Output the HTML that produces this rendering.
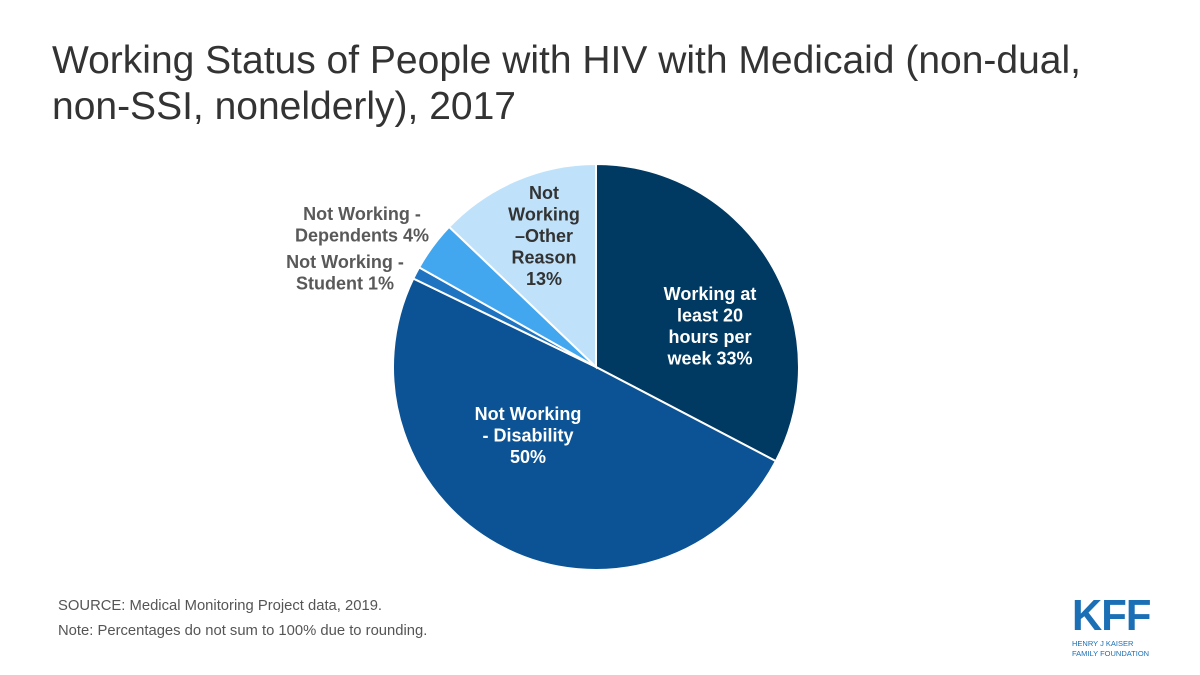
<!DOCTYPE html>
<html><head><meta charset="utf-8"><style>
body{margin:0;width:1200px;height:675px;background:#fff;font-family:"Liberation Sans",Arial,sans-serif;overflow:hidden;position:relative}
#title{position:absolute;left:52px;top:38px;font-size:39px;line-height:46px;color:#333;margin:0;font-weight:normal}
.note{position:absolute;left:58px;font-size:14.8px;color:#555}
svg{position:absolute;left:0;top:0}
</style></head><body>
<h1 id="title">Working Status of People with HIV with Medicaid (non-dual,<br>non-SSI, nonelderly), 2017</h1>
<svg id="chart" width="1200" height="675"></svg>
<div class="note" style="top:598px">SOURCE: Medical Monitoring Project data, 2019.</div>
<div class="note" style="top:623px">Note: Percentages do not sum to 100% due to rounding.</div>
<div style="position:absolute;left:1072px;top:596px;width:90px">
<div style="font-size:44px;font-weight:bold;color:#1a6fb5;line-height:40px;letter-spacing:-1px;transform:scaleX(0.95);transform-origin:left">KFF</div>
<div style="font-size:7.5px;color:#1a6fb5;line-height:10px;margin-top:3px">HENRY J KAISER<br>FAMILY FOUNDATION</div></div>
<script>
const categories=["Working at least 20 hours per week","Not Working - Disability","Not Working - Student","Not Working - Dependents","Not Working –Other Reason"];
const values=[33,50,1,4,13];
const colors=["#003a63","#0b5394","#1e74c1","#43a7f0","#bfe2fa"];
const labelLines=[["Working at","least 20","hours per","week 33%"],["Not Working","- Disability","50%"],["Not Working -","Student 1%"],["Not Working -","Dependents 4%"],["Not","Working","–Other","Reason","13%"]];
const cx=596,cy=367,r=203;
const svg=document.getElementById('chart');
const NS='http://www.w3.org/2000/svg';
const total=values.reduce((a,b)=>a+b,0);
function pt(a,rr){return [cx+rr*Math.sin(a),cy-rr*Math.cos(a)];}
let a0=0;
const labelPos=[[710,300,'#fff','middle'],[528,420,'#fff','middle'],[345,268,'#595959','middle'],[362,220,'#595959','middle'],[544,199,'#333','middle']];
values.forEach((v,i)=>{
 const a1=a0+v/total*2*Math.PI;
 const [x0,y0]=pt(a0,r),[x1,y1]=pt(a1,r);
 const p=document.createElementNS(NS,'path');
 p.setAttribute('d',`M${cx},${cy}L${x0},${y0}A${r},${r} 0 ${a1-a0>Math.PI?1:0} 1 ${x1},${y1}Z`);
 p.setAttribute('fill',colors[i]);p.setAttribute('stroke','#fff');p.setAttribute('stroke-width','2');
 
 
 svg.appendChild(p);
 const [lx,ly,lc,an]=labelPos[i];
 const t=document.createElementNS(NS,'text');
 t.setAttribute('x',lx);t.setAttribute('y',ly);t.setAttribute('fill',lc);t.setAttribute('text-anchor',an);
 t.setAttribute('font-size','18');t.setAttribute('font-weight','bold');t.setAttribute('font-family','Liberation Sans, Arial, sans-serif');
 
 
 labelLines[i].forEach((s,j)=>{const ts=document.createElementNS(NS,'tspan');ts.setAttribute('x',lx);ts.setAttribute('dy',j?'21.5':'0');ts.textContent=s;t.appendChild(ts);});
 svg.appendChild(t);
 a0=a1;
});
</script>
</body></html>
